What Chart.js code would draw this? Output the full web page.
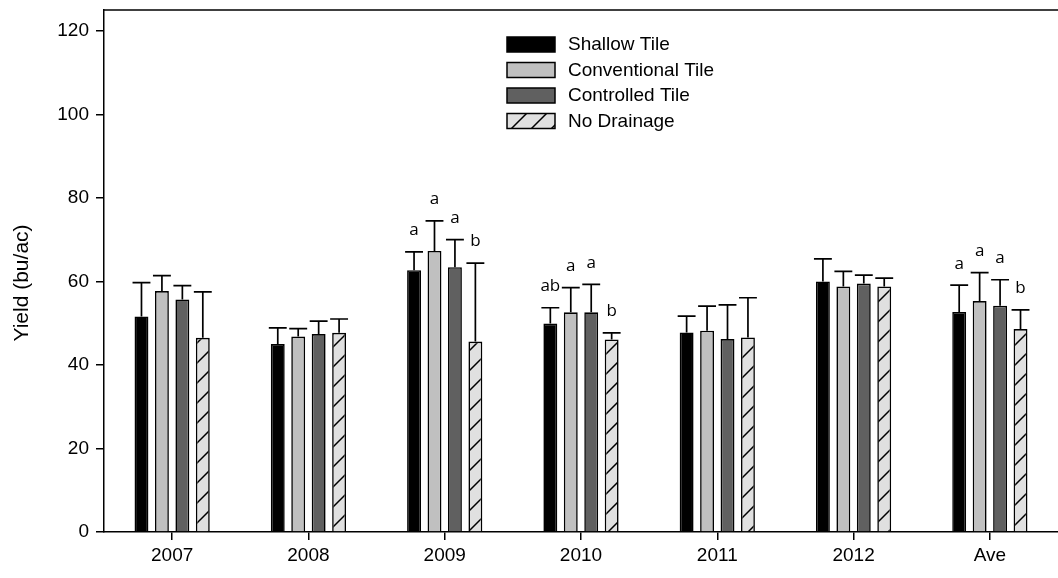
<!DOCTYPE html>
<html>
<head>
<meta charset="utf-8">
<script src="https://cdn.jsdelivr.net/npm/chart.js@4/dist/chart.umd.min.js"></script>
<style>
  html, body { margin: 0; padding: 0; background: #fff; }
  #wrap { width: 1058px; height: 578px; }
</style>
</head>
<body>
<div id="wrap"><canvas id="yieldChart"></canvas></div>
<script>
// categories + series (bu/ac), error = upper SE bar length
var years = ["2007", "2008", "2009", "2010", "2011", "2012", "Ave"];

var shallow      = [51.6, 45.0, 62.7, 49.9, 47.8, 60.0, 52.7];
var conventional = [57.7, 46.8, 67.3, 52.6, 48.2, 58.8, 55.3];
var controlled   = [55.7, 47.4, 63.4, 52.6, 46.2, 59.5, 54.2];
var noDrainage   = [46.5, 47.7, 45.6, 46.1, 46.6, 58.8, 48.6];

var shallowErr      = [8.1, 3.9, 4.4, 3.8, 3.9, 5.4, 6.4];
var conventionalErr = [3.7, 1.9, 7.2, 5.9, 5.9, 3.6, 6.8];
var controlledErr   = [3.3, 3.1, 6.6, 6.7, 8.2, 2.0, 6.2];
var noDrainageErr   = [11.0, 3.3, 18.8, 1.6, 9.5, 2.0, 4.6];

// mean separation letters
var shallowLet      = ["", "", "a", "ab", "", "", "a"];
var conventionalLet = ["", "", "a", "a", "", "", "a"];
var controlledLet   = ["", "", "a", "a", "", "", "a"];
var noDrainageLet   = ["", "", "b", "b", "", "", "b"];

var yTicks = [0, 20, 40, 60, 80, 100, 120];

// hatch pattern for No Drainage (tile in device pixels)
function makeHatch() {
  var r = window.devicePixelRatio || 1;
  var s = Math.round(20 * r);
  var c = document.createElement("canvas");
  c.width = s; c.height = s;
  var g = c.getContext("2d");
  g.fillStyle = "#e0e0e0";
  g.fillRect(0, 0, s, s);
  g.strokeStyle = "#000";
  g.lineWidth = 1.5 * r;
  g.beginPath();
  g.moveTo(0, s); g.lineTo(s, 0);
  g.moveTo(-3, 3); g.lineTo(3, -3);
  g.moveTo(s - 3, s + 3); g.lineTo(s + 3, s - 3);
  g.stroke();
  return g.createPattern(c, "repeat");
}
var hatch = makeHatch();

var errPlugin = {
  id: "errBars",
  afterDatasetsDraw: function(chart) {
    var ctx = chart.ctx;
    var ys = chart.scales.y;
    ctx.save();
    chart.data.datasets.forEach(function(ds, i) {
      var meta = chart.getDatasetMeta(i);
      meta.data.forEach(function(bar, j) {
        var top = ys.getPixelForValue(ds.data[j] + ds.errors[j]);
        var half = bar.width / 2 + 2;
        ctx.strokeStyle = "#000";
        ctx.lineWidth = 1.7;
        ctx.beginPath();
        ctx.moveTo(bar.x, bar.y);
        ctx.lineTo(bar.x, top);
        ctx.moveTo(bar.x - half, top);
        ctx.lineTo(bar.x + half, top);
        ctx.stroke();
        if (ds.letters[j]) {
          ctx.fillStyle = "#000";
          ctx.font = "17px 'Open Sans'";
          ctx.textAlign = "center";
          ctx.textBaseline = "bottom";
          ctx.fillText(ds.letters[j], bar.x, top - 13);
        }
      });
    });
    var a = chart.chartArea;
    // top frame line
    ctx.strokeStyle = "#000";
    ctx.lineWidth = 1.5;
    ctx.beginPath();
    ctx.moveTo(a.left, a.top);
    ctx.lineTo(chart.width, a.top);
    ctx.stroke();
    // y axis title
    ctx.translate(22, (a.top + a.bottom) / 2 + 12);
    ctx.rotate(-Math.PI / 2);
    ctx.fillStyle = "#000";
    ctx.font = "21px 'Liberation Sans'";
    ctx.textAlign = "center";
    ctx.textBaseline = "middle";
    ctx.fillText("Yield (bu/ac)", 0, 0);
    ctx.restore();
  }
};

var legendPlugin = {
  id: "boxLegend",
  afterDraw: function(chart) {
    var ctx = chart.ctx;
    var a = chart.chartArea;
    var x = a.left + 403, y = a.top + 27;
    ctx.save();
    chart.data.datasets.forEach(function(ds, i) {
      var ry = y + i * 25.5;
      ctx.fillStyle = ds.backgroundColor;
      ctx.fillRect(x, ry, 48, 15);
      ctx.strokeStyle = "#000";
      ctx.lineWidth = 1.5;
      ctx.strokeRect(x, ry, 48, 15);
      ctx.fillStyle = "#000";
      ctx.font = "19px 'Liberation Sans'";
      ctx.textAlign = "left";
      ctx.textBaseline = "middle";
      ctx.fillText(ds.label, x + 61, ry + 8);
    });
    ctx.restore();
  }
};

new Chart("yieldChart", {
  type: "bar",
  data: {
    labels: years,
    datasets: [
      { label: "Shallow Tile", data: shallow, errors: shallowErr, letters: shallowLet, backgroundColor: "#000000" },
      { label: "Conventional Tile", data: conventional, errors: conventionalErr, letters: conventionalLet, backgroundColor: "#c0c0c0" },
      { label: "Controlled Tile", data: controlled, errors: controlledErr, letters: controlledLet, backgroundColor: "#606060" },
      { label: "No Drainage", data: noDrainage, errors: noDrainageErr, letters: noDrainageLet, backgroundColor: hatch }
    ]
  },
  options: {
    responsive: true,
    maintainAspectRatio: false,
    animation: false,
    layout: { padding: { top: 10, right: -7, left: 0, bottom: 0 } },
    datasets: {
      bar: {
        borderColor: "#000",
        borderWidth: 1.6,
        categoryPercentage: 0.6,
        barPercentage: 0.68
      }
    },
    plugins: {
      legend: { display: false },
      tooltip: { enabled: false }
    },
    scales: {
      x: {
        grid: { offset: false, drawOnChartArea: false, tickLength: 8, color: "#000", lineWidth: 1.5 },
        border: { color: "#000", width: 1.5 },
        ticks: { color: "#000", font: { family: "Liberation Sans", size: 19 }, padding: 4 },
        afterFit: function(s) { s.height = 46; s.paddingLeft = 0; s.paddingRight = 0; }
      },
      y: {
        min: 0,
        max: 125,
        grid: { drawOnChartArea: false, tickLength: 8, color: "#000", lineWidth: 1.5 },
        border: { color: "#000", width: 1.5 },
        afterBuildTicks: function(s) {
          s.ticks = yTicks.map(function(v) { return { value: v }; });
        },
        ticks: { color: "#000", font: { family: "Liberation Sans", size: 19 }, padding: 7 },
        afterFit: function(s) { s.width = 104; s.paddingTop = 0; s.paddingBottom = 0; }
      }
    }
  },
  plugins: [errPlugin, legendPlugin]
});
</script>
</body>
</html>
